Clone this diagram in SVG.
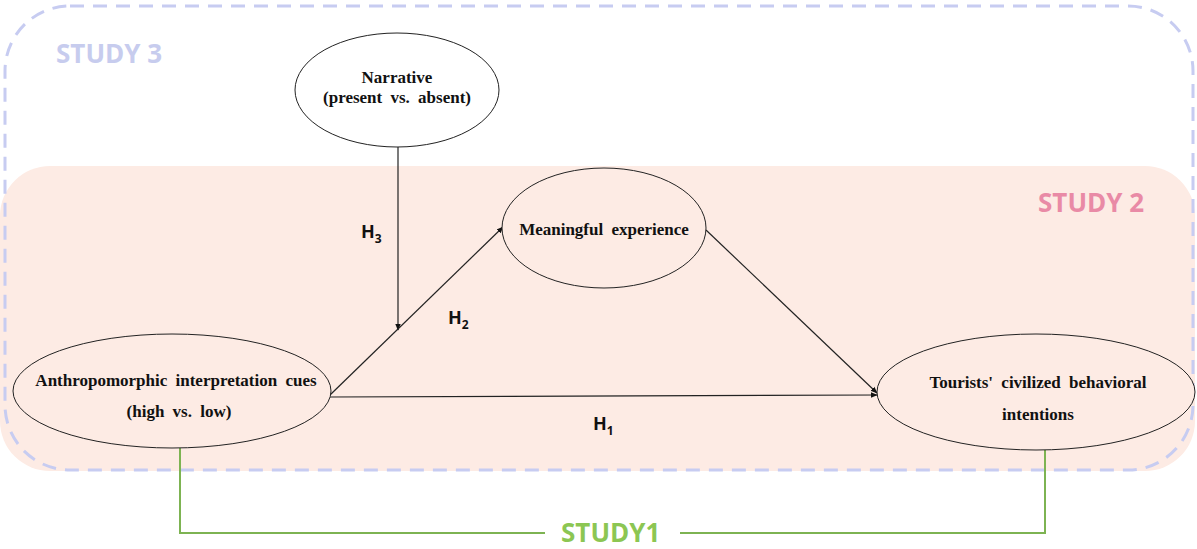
<svg xmlns="http://www.w3.org/2000/svg" width="1197" height="549" viewBox="0 0 1197 549">
<defs>
<marker id="arr" viewBox="0 0 10 10" refX="9" refY="5" markerWidth="7" markerHeight="7" orient="auto" markerUnits="userSpaceOnUse"><path d="M0,1 L10,5 L0,9 z" fill="#111"/></marker>
<style>
.node{fill:#fff;stroke:#222;stroke-width:1}
.nodep{fill:#fdebe4;stroke:#222;stroke-width:1}
.nt{font-family:"Liberation Serif",serif;font-weight:bold;font-size:17px;fill:#111;text-anchor:middle;word-spacing:4px}
.h{font-family:"Open Sans","Liberation Sans",sans-serif;font-weight:bold;font-size:18px;fill:#111}
.hs{font-size:12px}
.conn{stroke:#222;stroke-width:1.2;fill:none;marker-end:url(#arr)}
.st{font-family:"Open Sans","Liberation Sans",sans-serif;font-weight:bold;font-size:26px}
</style>
</defs>
<rect x="0" y="0" width="1197" height="549" fill="#fff"/>
<g id="study2"><rect x="0" y="166" width="1195" height="305" rx="50" fill="#fdebe4"/>
<text class="st" x="1038" y="212" fill="#e98aa6">STUDY 2</text></g>
<g id="study3"><rect x="5" y="6" width="1188" height="464" rx="65" fill="none" stroke="#c7ccf1" stroke-width="3" stroke-dasharray="14 9"/>
<text class="st" x="56" y="63" fill="#c7ccee">STUDY 3</text></g>
<g id="study1"><path d="M180 448 V533 H545 M680 533 H1045 V450" fill="none" stroke="#7db352" stroke-width="2"/>
<text class="st" x="561" y="542" fill="#8cc653">STUDY1</text></g>
<g id="connectors">
<line class="conn" x1="398" y1="147" x2="398" y2="330"/>
<line class="conn" x1="330" y1="395" x2="503" y2="227"/>
<line class="conn" x1="330" y1="397" x2="877" y2="395"/>
<line class="conn" x1="706" y1="230" x2="877" y2="393"/>
<text class="h" x="361" y="238">H<tspan class="hs" dy="5">3</tspan></text>
<text class="h" x="448" y="324">H<tspan class="hs" dy="5">2</tspan></text>
<text class="h" x="593" y="430">H<tspan class="hs" dy="5">1</tspan></text>
</g>
<g id="narrative"><ellipse class="node" cx="397" cy="90" rx="102" ry="57"/>
<text class="nt" x="397" y="83">Narrative</text>
<text class="nt" x="397" y="103">(present vs. absent)</text></g>
<g id="meaningful"><ellipse class="nodep" cx="604" cy="228" rx="102" ry="60"/>
<text class="nt" x="604" y="235">Meaningful experience</text></g>
<g id="anthropomorphic"><ellipse class="nodep" cx="172" cy="391" rx="159" ry="57"/>
<text class="nt" x="176" y="386">Anthropomorphic interpretation cues</text>
<text class="nt" x="179" y="417">(high vs. low)</text></g>
<g id="tourists"><ellipse class="nodep" cx="1036" cy="392" rx="159" ry="58"/>
<text class="nt" x="1038" y="388">Tourists' civilized behavioral</text>
<text class="nt" x="1038" y="420">intentions</text></g>
</svg>
